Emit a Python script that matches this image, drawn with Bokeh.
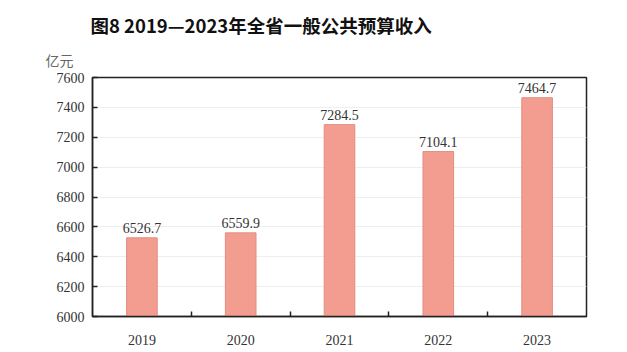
import numpy as np
from bokeh.plotting import figure
from bokeh.models import Title, FixedTicker, Range1d, ColumnDataSource, LabelSet
from bokeh.embed import file_html
from bokeh.resources import INLINE

years = ["2019", "2020", "2021", "2022", "2023"]
values = [6526.7, 6559.9, 7284.5, 7104.1, 7464.7]
y_ticks = [6000, 6200, 6400, 6600, 6800, 7000, 7200, 7400, 7600]
title_text = "图8 2019—2023年全省一般公共预算收入"
unit_text = "亿元"

xs = np.arange(len(years)) + 0.5
src = ColumnDataSource(dict(x=xs, top=values, lab=[f"{v:.1f}" for v in values]))

p = figure(width=627, height=352, output_backend="svg", toolbar_location=None,
           x_range=Range1d(0, len(years)), y_range=Range1d(y_ticks[0], y_ticks[-1]),
           min_border_left=92, min_border_right=41, min_border_top=77, min_border_bottom=36)
p.title.visible = False
p.background_fill_color = "white"
p.border_fill_color = "white"
p.outline_line_color = "#222222"
p.outline_line_width = 1.5

p.vbar(x="x", top="top", bottom=y_ticks[0], width=0.31, source=src,
       fill_color="#F29D90", line_color="#E38D80", line_width=1)

p.add_layout(LabelSet(x="x", y="top", text="lab", source=src, text_align="center",
                      text_baseline="bottom", y_offset=5, text_font="Liberation Serif",
                      text_font_size="14px", text_color="#333333"))

# x axis
p.xaxis.ticker = FixedTicker(ticks=list(xs), minor_ticks=list(np.arange(1, len(years))))
p.xaxis.major_label_overrides = {float(x): y for x, y in zip(xs, years)}
p.xaxis.major_tick_line_color = None
p.xaxis.minor_tick_in = 5
p.xaxis.minor_tick_out = 0
p.xaxis.minor_tick_line_color = "#222222"
p.xaxis.minor_tick_line_width = 1.5
p.xaxis.axis_line_color = "#222222"
p.xaxis.axis_line_width = 1.5
p.xaxis.major_label_text_font = "Liberation Serif"
p.xaxis.major_label_text_font_size = "14px"
p.xaxis.major_label_text_color = "#333333"
p.xaxis.major_label_standoff = 12

# y axis
p.yaxis.ticker = FixedTicker(ticks=y_ticks)
p.yaxis.major_tick_in = 5
p.yaxis.major_tick_out = 0
p.yaxis.minor_tick_line_color = None
p.yaxis.major_tick_line_color = "#222222"
p.yaxis.major_tick_line_width = 1.5
p.yaxis.axis_line_color = "#222222"
p.yaxis.axis_line_width = 1.5
p.yaxis.major_label_text_font = "Liberation Serif"
p.yaxis.major_label_text_font_size = "14px"
p.yaxis.major_label_text_color = "#333333"
p.yaxis.major_label_standoff = 8

p.xgrid.grid_line_color = None
p.ygrid.grid_line_color = "#eeeeee"
p.ygrid.grid_line_width = 1

p.add_layout(Title(text=unit_text, align="left", offset=-47,
                   text_font="Noto Sans CJK SC", text_font_style="normal",
                   text_font_size="14px", text_color="#666666", standoff=16), "above")
p.add_layout(Title(text=title_text, align="left", offset=-2,
                   text_font="Noto Sans CJK SC", text_font_style="bold",
                   text_font_size="18.5px", text_color="#111111", standoff=4), "above")

open("out.html", "w").write(file_html(p, INLINE))
